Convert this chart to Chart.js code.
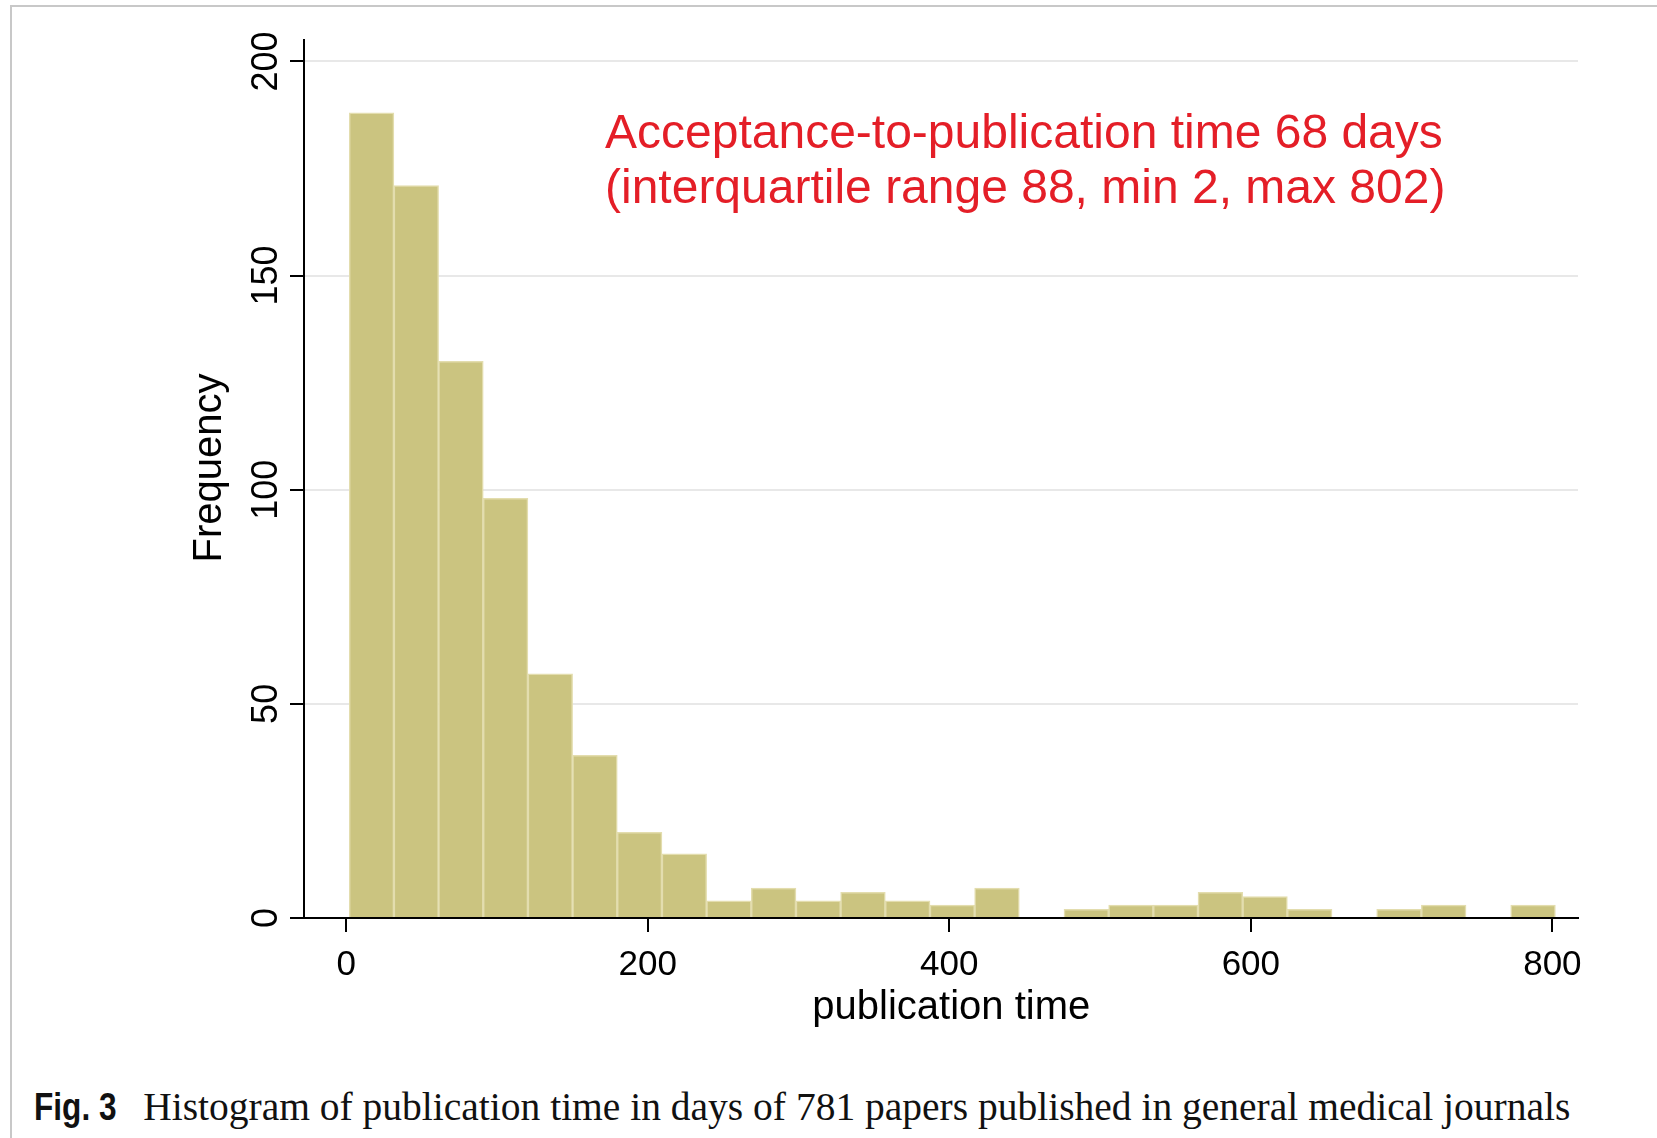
<!DOCTYPE html>
<html>
<head>
<meta charset="utf-8">
<script src="https://cdn.jsdelivr.net/npm/chart.js@4.4.0/dist/chart.umd.min.js"></script>
<style>
  body { margin: 0; background: #fff; }
  .frame {
    position: absolute; left: 10px; top: 5px; width: 1700px; height: 1200px;
    border-top: 2px solid #c8c8c8; border-left: 2px solid #c8c8c8;
  }
  #chart { position: absolute; left: 0; top: 0; }
  .caption {
    position: absolute; left: 34px; top: 1084px; white-space: nowrap;
    font-family: "Liberation Serif", "Times New Roman", serif; font-size: 39.5px; color: #111;
  }
  .caption b {
    font-family: "Liberation Sans Narrow", "Liberation Sans", Arial, sans-serif;
    font-weight: bold; display: inline-block; transform: scaleX(0.8); transform-origin: left;
    margin-right: 6px;
  }
</style>
</head>
<body>
<div class="frame"></div>
<canvas id="chart" width="1657" height="1040"></canvas>
<div class="caption"><b>Fig. 3</b>Histogram of publication time in days of 781 papers published in general medical journals</div>

<script>
// bin edges (days) and counts
const binEdges = [2, 31.63, 61.26, 90.89, 120.52, 150.15, 179.78, 209.41, 239.04, 268.67,
  298.30, 327.93, 357.56, 387.19, 416.81, 446.44, 476.07, 505.70, 535.33, 564.96,
  594.59, 624.22, 653.85, 683.48, 713.11, 742.74, 772.37, 802];
const counts = [188, 171, 130, 98, 57, 38, 20, 15, 4, 7,
  4, 6, 4, 3, 7, 0, 2, 3, 3, 6,
  5, 2, 0, 2, 3, 0, 3];
const xTicks = [0, 200, 400, 600, 800];
const yTicks = [0, 50, 100, 150, 200];
const note = ["Acceptance-to-publication time 68 days", "(interquartile range 88, min 2, max 802)"];

const points = counts.map((c, i) => ({ x: (binEdges[i] + binEdges[i + 1]) / 2, y: c }));

const textPlugin = {
  id: 'textPlugin',
  afterDraw(chart) {
    const ctx = chart.ctx;
    const xs = chart.scales.x, ys = chart.scales.y;
    ctx.save();
    // y tick labels, rotated like stata
    ctx.fillStyle = '#000';
    ctx.font = '36px "Liberation Sans", Arial, sans-serif';
    ctx.textAlign = 'center';
    ctx.textBaseline = 'alphabetic';
    ys.ticks.forEach(t => {
      ctx.save();
      ctx.translate(277, ys.getPixelForValue(t.value));
      ctx.rotate(-Math.PI / 2);
      ctx.fillText(String(t.value), 0, 0);
      ctx.restore();
    });
    // axis titles
    ctx.font = '40px "Liberation Sans", Arial, sans-serif';
    ctx.save();
    ctx.translate(221, 468);
    ctx.rotate(-Math.PI / 2);
    ctx.fillText('Frequency', 0, 0);
    ctx.restore();
    ctx.fillText('publication time', xs.getPixelForValue(400) + 2, 1019);
    // red note
    ctx.fillStyle = '#e41e27';
    ctx.font = '48px "Liberation Sans", Arial, sans-serif';
    ctx.textAlign = 'left';
    ctx.fillText(note[0], 605, 148);
    ctx.fillText(note[1], 605, 203);
    ctx.restore();
  }
};

new Chart(document.getElementById('chart'), {
  type: 'bar',
  data: {
    datasets: [{
      data: points,
      backgroundColor: '#cbc480',
      borderColor: '#e3ddae',
      borderWidth: 1.5,
      barPercentage: 1.0,
      categoryPercentage: 1.0
    }]
  },
  options: {
    responsive: false,
    animation: false,
    layout: { padding: { left: 0, top: 40, right: 79, bottom: 0 } },
    plugins: { legend: { display: false }, tooltip: { enabled: false } },
    scales: {
      x: {
        type: 'linear',
        min: -28,
        max: 817,
        offset: false,
        afterFit: s => { s.height = 122; },
        afterBuildTicks: s => { s.ticks = xTicks.map(v => ({ value: v })); },
        ticks: {
          color: '#000',
          padding: 12,
          maxRotation: 0,
          font: { family: '"Liberation Sans", Arial, sans-serif', size: 35 }
        },
        grid: { offset: false, drawOnChartArea: false, drawTicks: true, tickLength: 14, tickColor: '#000', lineWidth: 2 },
        border: { display: true, color: '#000', width: 2 }
      },
      y: {
        min: 0,
        max: 205,
        afterFit: s => { s.width = 304; },
        afterBuildTicks: s => { s.ticks = yTicks.map(v => ({ value: v })); },
        ticks: { display: false },
        grid: { color: '#e8e8e8', lineWidth: 2, drawTicks: true, tickLength: 14, tickColor: '#000' },
        border: { display: true, color: '#000', width: 2 }
      }
    }
  },
  plugins: [textPlugin]
});
</script>
</body>
</html>
